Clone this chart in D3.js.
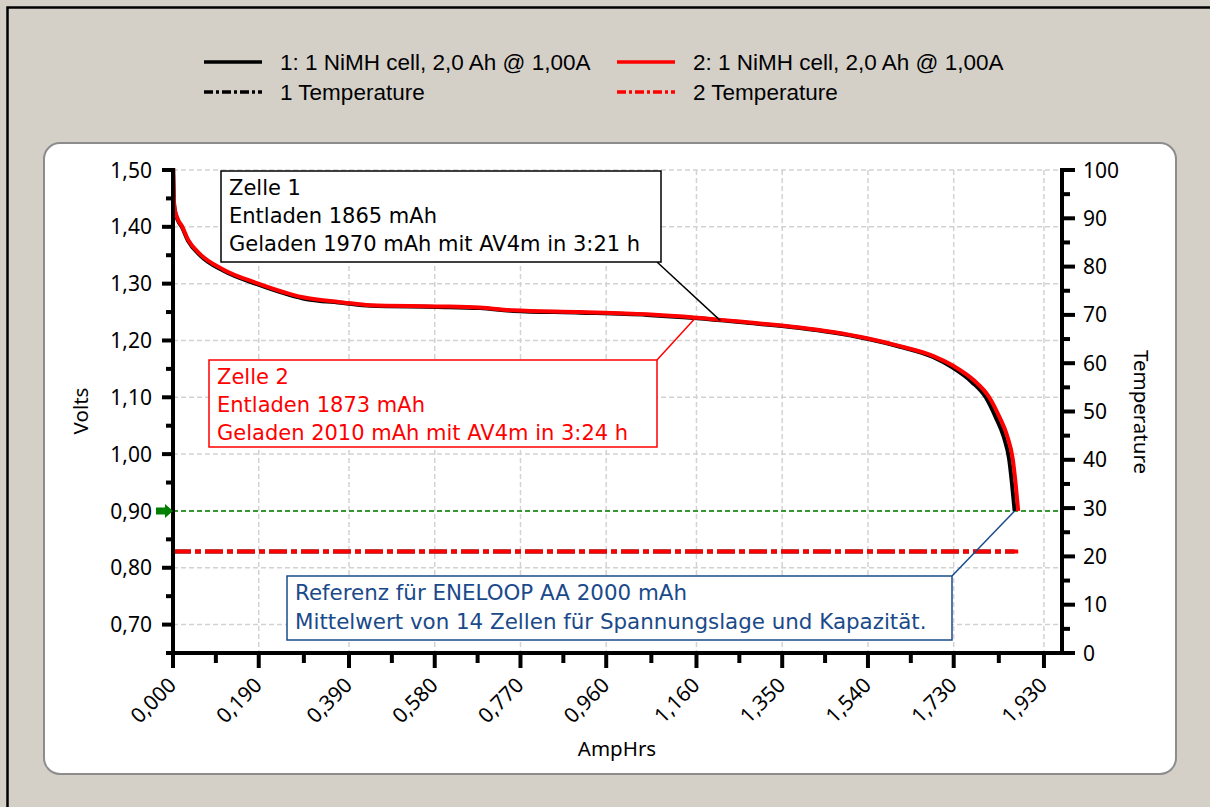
<!DOCTYPE html>
<html>
<head>
<meta charset="utf-8">
<script src="https://cdn.jsdelivr.net/npm/d3@7"></script>
<style>
  html, body { margin: 0; background: #d4d0c8; overflow: hidden; }
  svg { display: block; }
</style>
</head>
<body>
<script>
var width = 1210,
    height = 807;

// x axis ticks (AmpHrs) and their labels as printed
var xTicks = [0, 0.19, 0.39, 0.58, 0.77, 0.96, 1.16, 1.35, 1.54, 1.73, 1.93];
var xTickLabels = ["0,000", "0,190", "0,390", "0,580", "0,770", "0,960", "1,160", "1,350", "1,540", "1,730", "1,930"];
var xMinor = [0.095, 0.29, 0.485, 0.675, 0.865, 1.06, 1.255, 1.445, 1.635, 1.83];

// left axis (Volts)
var vTicks = [0.70, 0.80, 0.90, 1.00, 1.10, 1.20, 1.30, 1.40, 1.50];
var vTickLabels = ["0,70", "0,80", "0,90", "1,00", "1,10", "1,20", "1,30", "1,40", "1,50"];
var vMinor = [0.65, 0.75, 0.85, 0.95, 1.05, 1.15, 1.25, 1.35, 1.45];

// right axis (Temperature)
var tTicks = [0, 10, 20, 30, 40, 50, 60, 70, 80, 90, 100];
var tMinor = [5, 15, 25, 35, 45, 55, 65, 75, 85, 95];

// cell 1 (black) discharge curve
var ah1 = [0, 0.002, 0.004, 0.011, 0.02, 0.033, 0.06, 0.111, 0.186, 0.288, 0.377, 0.437, 0.585, 0.68, 0.753, 0.902, 1.05, 1.161, 1.272, 1.389, 1.462, 1.538, 1.611, 1.684, 1.726, 1.77, 1.801, 1.823, 1.841, 1.853, 1.859, 1.865];
var volts1 = [1.52, 1.445, 1.429, 1.411, 1.399, 1.376, 1.350, 1.323, 1.299, 1.274, 1.266, 1.261, 1.259, 1.257, 1.252, 1.249, 1.245, 1.239, 1.231, 1.222, 1.214, 1.203, 1.189, 1.171, 1.153, 1.127, 1.100, 1.065, 1.030, 0.990, 0.949, 0.90];

// cell 2 (red) discharge curve
var ah2 = [0, 0.002, 0.004, 0.011, 0.02, 0.033, 0.06, 0.111, 0.186, 0.288, 0.377, 0.437, 0.585, 0.68, 0.753, 0.902, 1.05, 1.161, 1.272, 1.389, 1.462, 1.538, 1.611, 1.684, 1.73, 1.776, 1.808, 1.831, 1.849, 1.861, 1.867, 1.873];
var volts2 = [1.52, 1.447, 1.431, 1.413, 1.401, 1.378, 1.352, 1.325, 1.301, 1.276, 1.267, 1.262, 1.260, 1.258, 1.253, 1.250, 1.246, 1.240, 1.232, 1.223, 1.215, 1.204, 1.190, 1.173, 1.155, 1.129, 1.101, 1.066, 1.031, 0.991, 0.950, 0.90];

// temperatures
var tempAh1 = [0, 1.865],
    temp1 = [21, 21];
var tempAh2 = [0, 1.873],
    temp2 = [21, 21];

var cutoffVolts = 0.90;

var legendLabels = ["1: 1 NiMH cell, 2,0 Ah @ 1,00A", "2: 1 NiMH cell, 2,0 Ah @ 1,00A", "1 Temperature", "2 Temperature"];
var note1 = ["Zelle 1", "Entladen 1865 mAh", "Geladen 1970 mAh mit AV4m in 3:21 h"];
var note2 = ["Zelle 2", "Entladen 1873 mAh", "Geladen  2010 mAh mit AV4m in 3:24 h"];
var note3 = ["Referenz für ENELOOP AA 2000 mAh", "Mittelwert von 14 Zellen für Spannungslage und Kapazität."];

var tickFont = "'Noto Sans', 'Open Sans', sans-serif";
var noteFont = "'DejaVu Sans', 'Noto Sans', sans-serif";
var legendFont = "'Liberation Sans', Arial, sans-serif";

//plot frame (window.top is reserved, so pTop etc.)
var pLeft = 173, pRight = 1062, pTop = 170, pBottom = 653;

var x = d3.scaleLinear().domain([0, 1.97]).range([pLeft, pRight]);
var yV = d3.scaleLinear().domain([0.65, 1.50]).range([pBottom, pTop]);
var yT = d3.scaleLinear().domain([0, 100]).range([pBottom, pTop]);

var svg = d3.select("body").append("svg")
    .attr("width", width)
    .attr("height", height);

// background and outer border (only top and left edges are in view)
svg.append("rect").attr("width", width).attr("height", height).attr("fill", "#d4d0c8");
svg.append("path")
    .attr("d", "M7.5," + height + " V7.5 H" + width)
    .attr("fill", "none").attr("stroke", "black").attr("stroke-width", 2.5);

// white panel
svg.append("rect")
    .attr("x", 44).attr("y", 143)
    .attr("width", 1132).attr("height", 631)
    .attr("rx", 16).attr("ry", 16)
    .attr("fill", "white").attr("stroke", "#8c8c8c").attr("stroke-width", 2);

// ================ Legend ================
var legend = svg.append("g");
var legendItems = [
    {x: 204, y: 62, color: "black", dash: null, label: legendLabels[0]},
    {x: 617, y: 62, color: "red", dash: null, label: legendLabels[1]},
    {x: 204, y: 92, color: "black", dash: "9,3,3,3", label: legendLabels[2]},
    {x: 617, y: 92, color: "red", dash: "9,3,3,3", label: legendLabels[3]}
];
legendItems.forEach(function(d) {
    legend.append("line")
        .attr("x1", d.x).attr("x2", d.x + 58)
        .attr("y1", d.y).attr("y2", d.y)
        .attr("stroke", d.color).attr("stroke-width", 3.5)
        .attr("stroke-dasharray", d.dash);
    legend.append("text")
        .attr("x", d.x + 76).attr("y", d.y + 8)
        .attr("font-family", legendFont)
        .attr("font-size", "22.5px")
        .attr("fill", "black")
        .text(d.label);
});

// ================ Grid ================
var grid = svg.append("g").attr("stroke", "#d2d2d2").attr("stroke-width", 1.5).attr("stroke-dasharray", "5,3");
xTicks.forEach(function(t) {
    grid.append("line").attr("x1", x(t)).attr("x2", x(t)).attr("y1", pTop).attr("y2", pBottom);
});
vTicks.forEach(function(t) {
    grid.append("line").attr("x1", pLeft).attr("x2", pRight).attr("y1", yV(t)).attr("y2", yV(t));
});

svg.append("defs").append("clipPath").attr("id", "plotclip")
    .append("rect").attr("x", pLeft).attr("y", pTop - 2).attr("width", pRight - pLeft).attr("height", pBottom - pTop + 2);

var plot = svg.append("g").attr("clip-path", "url(#plotclip)");

// cutoff line 0,90 V
plot.append("line")
    .attr("x1", pLeft).attr("x2", pRight)
    .attr("y1", yV(cutoffVolts)).attr("y2", yV(cutoffVolts))
    .attr("stroke", "#008000").attr("stroke-width", 1.5).attr("stroke-dasharray", "5,3");

// temperature lines
var tempLine = d3.line().x(function(d) { return x(d[0]); }).y(function(d) { return yT(d[1]); });
plot.append("path")
    .attr("d", tempLine(d3.zip(tempAh1, temp1)))
    .attr("fill", "none").attr("stroke", "black").attr("stroke-width", 4)
    .attr("stroke-dasharray", "18,4,6,4");
plot.append("path")
    .attr("d", tempLine(d3.zip(tempAh2, temp2)))
    .attr("fill", "none").attr("stroke", "red").attr("stroke-width", 4)
    .attr("stroke-dasharray", "18,4,6,4");

// discharge curves
var voltLine = d3.line()
    .x(function(d) { return x(d[0]); })
    .y(function(d) { return yV(d[1]); })
    .curve(d3.curveMonotoneX);
plot.append("path")
    .attr("d", voltLine(d3.zip(ah1, volts1)))
    .attr("fill", "none").attr("stroke", "black").attr("stroke-width", 4)
    .attr("stroke-linejoin", "round");
plot.append("path")
    .attr("d", voltLine(d3.zip(ah2, volts2)))
    .attr("fill", "none").attr("stroke", "red").attr("stroke-width", 4)
    .attr("stroke-linejoin", "round");

// ================ Annotations ================
function note(lines, bx, by, bw, bh, color, lx, ly, cornerX, cornerY, step, size) {
    var g = svg.append("g");
    g.append("line")
        .attr("x1", cornerX).attr("y1", cornerY)
        .attr("x2", lx).attr("y2", ly)
        .attr("stroke", color).attr("stroke-width", 1.5);
    g.append("rect")
        .attr("x", bx).attr("y", by).attr("width", bw).attr("height", bh)
        .attr("fill", "white").attr("stroke", color).attr("stroke-width", 1.5);
    g.selectAll("text").data(lines).enter().append("text")
        .attr("x", bx + 8)
        .attr("y", function(d, i) { return by + 24 + i * step; })
        .attr("font-family", noteFont)
        .attr("font-size", size)
        .attr("fill", color)
        .text(function(d) { return d; });
}
note(note1, 221, 171, 440, 91, "black", x(1.213), yV(1.235), 657, 262, 28, "21px");
note(note2, 209, 360, 448, 87, "red", x(1.157), yV(1.239), 657, 360, 28, "21px");
note(note3, 287, 576, 665, 64, "#1a4a8a", x(1.865), yV(cutoffVolts), 952, 576, 29, "21.4px");

// ================ Axes ================
var axes = svg.append("g").attr("stroke", "black").attr("stroke-width", 4);
axes.append("line").attr("x1", pLeft).attr("x2", pLeft).attr("y1", pTop - 2).attr("y2", pBottom + 2);
axes.append("line").attr("x1", pRight).attr("x2", pRight).attr("y1", pTop - 2).attr("y2", pBottom + 2);
axes.append("line").attr("x1", pLeft - 2).attr("x2", pRight + 2).attr("y1", pBottom).attr("y2", pBottom);

// left axis ticks
vTicks.forEach(function(t) {
    axes.append("line").attr("x1", pLeft - 11).attr("x2", pLeft).attr("y1", yV(t)).attr("y2", yV(t));
});
vMinor.forEach(function(t) {
    axes.append("line").attr("x1", pLeft - 7).attr("x2", pLeft).attr("y1", yV(t)).attr("y2", yV(t));
});

// right axis ticks
tTicks.forEach(function(t) {
    axes.append("line").attr("x1", pRight).attr("x2", pRight + 13).attr("y1", yT(t)).attr("y2", yT(t));
});
tMinor.forEach(function(t) {
    axes.append("line").attr("x1", pRight).attr("x2", pRight + 8).attr("y1", yT(t)).attr("y2", yT(t));
});

// bottom ticks
xTicks.forEach(function(t) {
    axes.append("line").attr("x1", x(t)).attr("x2", x(t)).attr("y1", pBottom).attr("y2", pBottom + 15);
});
xMinor.forEach(function(t) {
    axes.append("line").attr("x1", x(t)).attr("x2", x(t)).attr("y1", pBottom).attr("y2", pBottom + 10);
});

// tick labels
var labels = svg.append("g").attr("font-family", tickFont).attr("font-size", "21px").attr("fill", "black");
labels.selectAll(".vl").data(vTicks).enter().append("text")
    .attr("x", pLeft - 21)
    .attr("y", function(d) { return yV(d); })
    .attr("dy", "0.36em")
    .attr("text-anchor", "end")
    .text(function(d, i) { return vTickLabels[i]; });

labels.selectAll(".tl").data(tTicks).enter().append("text")
    .attr("x", pRight + 21)
    .attr("y", function(d) { return yT(d); })
    .attr("dy", "0.36em")
    .text(function(d) { return d; });

labels.selectAll(".xl").data(xTicks).enter().append("text")
    .attr("transform", function(d) { return "translate(" + x(d) + "," + (pBottom + 29) + ") rotate(-45)"; })
    .attr("text-anchor", "end")
    .attr("dy", "0.3em")
    .text(function(d, i) { return xTickLabels[i]; });

// green marker at cutoff
svg.append("path")
    .attr("d", "M" + (pLeft - 17) + "," + (yV(cutoffVolts) - 3.5) +
               " h9 v-3.5 l8,7 l-8,7 v-3.5 h-9 z")
    .attr("fill", "#008000");

// axis titles
var titles = svg.append("g").attr("font-family", tickFont).attr("font-size", "20.5px").attr("fill", "black").attr("text-anchor", "middle");
titles.append("text").attr("transform", "translate(88,411) rotate(-90)").text("Volts");
titles.append("text").attr("transform", "translate(1134,412) rotate(90)").text("Temperature");
titles.append("text").attr("x", 617).attr("y", 756).text("AmpHrs");
</script>
</body>
</html>
